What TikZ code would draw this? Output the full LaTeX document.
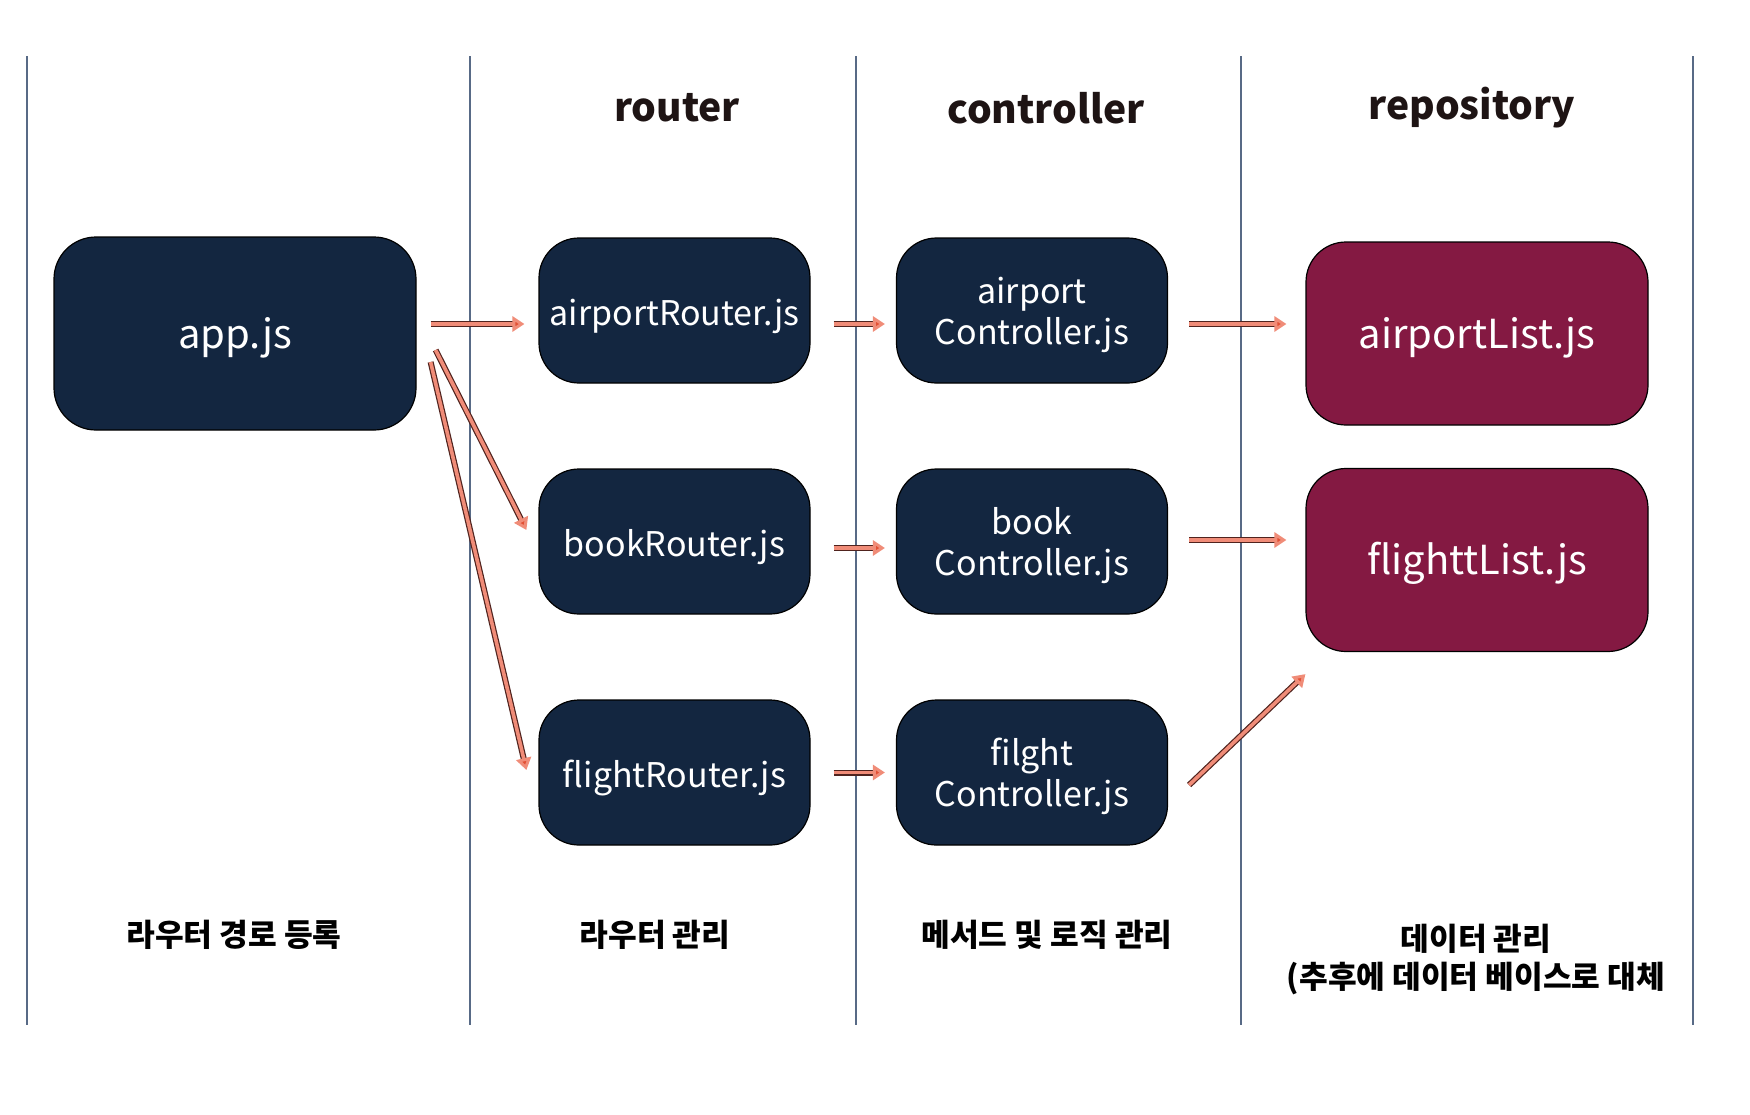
\documentclass[tikz,border=0pt]{standalone}
\usepackage{fontspec}
\setmainfont{Noto Sans CJK KR}
\usetikzlibrary{arrows.meta,calc}
\begin{document}
\begin{tikzpicture}[x=0.5pt,y=0.5pt,yscale=-1,xscale=1,
  lane/.style={draw={rgb,255:red,88;green,106;blue,134},line width=1.1pt},
  filebox/.style={draw=black,line width=0.6pt,rounded corners=20pt,fill={rgb,255:red,19;green,38;blue,64},
    text=white,align=center,inner sep=0pt,minimum width=135.5pt,minimum height=72.5pt,
    text height=15.2pt,text depth=0pt,font=\fontsize{17}{20.5}\selectfont},
  twoline/.style={filebox,text height=,text depth=0pt},
  datbox/.style={filebox,fill={rgb,255:red,132;green,25;blue,66},minimum width=171pt,minimum height=91.5pt,
    text height=14.8pt,font=\fontsize{20}{24}\selectfont},
  head/.style={font=\bfseries\fontsize{19.5}{24}\selectfont,text={rgb,255:red,30;green,20;blue,20}},
  note/.style={font=\bfseries\fontsize{15.6}{19}\selectfont,align=center},
  flow/.style={draw={rgb,255:red,240;green,140;blue,120},line width=1.8pt,
    -{Triangle[length=6pt,width=7.5pt,fill={rgb,255:red,226;green,80;blue,52}]},
    preaction={draw={rgb,255:red,80;green,35;blue,30},line width=3pt,-,shorten >=5pt}}
]
\useasboundingbox (0,0) rectangle (1750,1114);

%Straight Lines
\foreach \x in {27,470,856,1241,1693}
  \draw[lane] (\x,56) -- (\x,1025);

%Text headers
\node[head] (hrouter) at (677,108) {router};
\node[head] (hctrl) at (1046,108) {controller};
\node[head] (hrepo) at (1472,108) {repository};

%Rounded Rect
\node[filebox,minimum width=181pt,minimum height=96.5pt,rounded corners=21pt,
  text height=15.2pt,font=\fontsize{20}{24}\selectfont] (app) at (235,333.5) {app.js};

\node[filebox] (airR) at (674.5,310.5) {airportRouter.js};
\node[filebox] (bookR) at (674.5,541.5) {bookRouter.js};
\node[filebox] (flightR) at (674.5,772.5) {flightRouter.js};

\node[twoline] (airC) at (1032,310.5) {airport\\Controller.js};
\node[twoline] (bookC) at (1032,541.5) {book\\Controller.js};
\node[twoline] (flightC) at (1032,772.5) {filght\\Controller.js};

\node[datbox] (airL) at (1477,333.5) {airportList.js};
\node[datbox] (flightL) at (1477,560) {flighttList.js};

%Arrows
\draw[flow] ($(app.east)+(14,-9.5)$) -- ($(airR.west)+(-14,13.5)$);
\draw[flow] ($(app.east)+(19,16.5)$) -- ($(bookR.west)+(-12,-11.5)$);
\draw[flow] ($(app.east)+(14,28.5)$) -- ($(flightR.west)+(-12,-2.5)$);

\draw[flow] ($(airR.east)+(23,13.5)$) -- ($(airC.west)+(-11,13.5)$);
\draw[flow] ($(bookR.east)+(23,6.5)$) -- ($(bookC.west)+(-11,6.5)$);
\draw[flow] ($(flightR.east)+(23,0)$) -- ($(flightC.west)+(-11,0)$);

\draw[flow] ($(airC.east)+(21,13.5)$) -- ($(airL.west)+(-19,-9.5)$);
\draw[flow] ($(bookC.east)+(21,-1.5)$) -- ($(flightL.west)+(-19,-20)$);
\draw[flow] ($(flightC.east)+(21,12.5)$) -- ($(flightL.south west)+(0,22)$);

%Text notes
\node[note] (napp) at (234,935) {라우터 경로 등록};
\node[note] (nrouter) at (655,935) {라우터 관리};
\node[note] (nctrl) at (1047,935) {메서드 및 로직 관리};
\node[note,anchor=north] (nrepo) at (1476,917) {데이터 관리\\(추후에 데이터 베이스로 대체};

\end{tikzpicture}
\end{document}
